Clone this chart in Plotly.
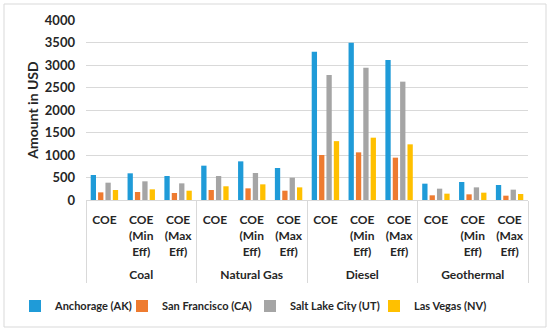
import plotly.graph_objects as go

groups = ["Coal"] * 3 + ["Natural Gas"] * 3 + ["Diesel"] * 3 + ["Geothermal"] * 3
metrics = ["COE<br> ", "COE<br>(Min<br>Eff)<br> ", "COE<br>(Max<br>Eff)<br> "] * 4

series_names = ["Anchorage (AK)", "San Francisco (CA)", "Salt Lake City (UT)", "Las Vegas (NV)"]
anchorage = [556, 593, 533, 763, 859, 711, 3296, 3496, 3111, 363, 400, 333]
san_francisco = [170, 178, 156, 222, 259, 207, 1000, 1059, 941, 104, 126, 96]
salt_lake_city = [385, 415, 370, 533, 600, 496, 2778, 2941, 2630, 252, 281, 230]
las_vegas = [222, 237, 207, 305, 348, 281, 1308, 1385, 1237, 141, 163, 133]
colors = ["#1F9BD8", "#EE7B30", "#A5A5A5", "#FFC000"]

y_ticks = [0, 500, 1000, 1500, 2000, 2500, 3000, 3500, 4000]

font_family = "Lato, 'Open Sans', sans-serif"
text_color = "#262626"

W, H = 550, 331
L, R, T, B = 86, 22, 20, 131
pw, ph = W - L - R, H - T - B

def px_x(x):
    return (x - L) / pw

def px_y(y):
    return (H - B - y) / ph

legend_ids = ["legend", "legend2", "legend3", "legend4"]
legend_text_x = [55, 162, 290, 414]

fig = go.Figure()
for name, vals, col, lid in zip(series_names, [anchorage, san_francisco, salt_lake_city, las_vegas],
                                colors, legend_ids):
    fig.add_trace(go.Bar(x=[groups, metrics], y=vals, name=name, marker_color=col,
                         marker_line_width=0, legend=lid))

legend_layouts = {}
for lid, tx in zip(legend_ids, legend_text_x):
    legend_layouts[lid] = dict(orientation="h", xref="container", yref="container",
                               x=(tx - 40) / W, xanchor="left",
                               y=1 - 306 / H, yanchor="middle",
                               font=dict(family=font_family, size=11, color=text_color, weight="bold"),
                               itemwidth=30, bgcolor="rgba(0,0,0,0)")

fig.update_layout(
    width=W, height=H,
    margin=dict(l=L, r=R, t=T, b=B),
    paper_bgcolor="white", plot_bgcolor="white",
    barmode="group", bargap=0.2, bargroupgap=0.28,
    font=dict(family=font_family, size=12, color=text_color),
    showlegend=True,
    xaxis=dict(type="multicategory", showline=True, linecolor="#D9D9D9", linewidth=1,
               showgrid=False, ticks="", automargin=False, ticklabelstandoff=9,
               tickfont=dict(family=font_family, size=12, color=text_color, weight="bold"),
               dividercolor="#D9D9D9", dividerwidth=1, showdividers=True),
    yaxis=dict(range=[0, 4000], tickvals=y_ticks, showgrid=True, gridcolor="#D9D9D9",
               gridwidth=1, zeroline=False, showline=False, automargin=False,
               ticklabelstandoff=10,
               tickfont=dict(family=font_family, size=13, color=text_color, weight="bold"),
               title=dict(text="Amount in USD", standoff=2,
                          font=dict(family=font_family, size=14, color=text_color, weight="bold"))),
    shapes=[dict(type="rect", xref="paper", yref="paper",
                 x0=px_x(4), x1=px_x(546), y0=px_y(327), y1=px_y(4),
                 line=dict(color="#D9D9D9", width=1), fillcolor="rgba(0,0,0,0)", layer="below")],
    **legend_layouts,
)

fig.write_html("out.html", config={"displayModeBar": False},
               post_script="document.body.style.margin='0';document.body.style.overflow='hidden';")
